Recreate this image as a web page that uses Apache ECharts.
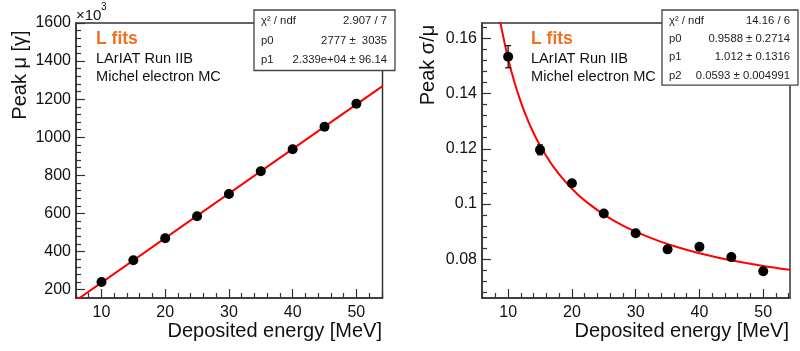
<!DOCTYPE html>
<html><head><meta charset="utf-8">
<script src="https://cdn.jsdelivr.net/npm/echarts@6/dist/echarts.min.js"></script>
<style>html,body{margin:0;padding:0;background:#fff}#c{width:800px;height:351px}</style>
</head><body><div id="c"></div>
<script>
// ---- data ----
const energy = [10, 15, 20, 25, 30, 35, 40, 45, 50];
const peakMu = [240, 354, 470, 585, 702, 822, 937, 1055, 1176];          // x10^3 photons
const linFitX = [6, 54.1];
const linFitY = [143.1, 1268.2];
const peakRes = [0.1533, 0.1196, 0.1075, 0.0966, 0.0894, 0.0836, 0.0845, 0.0808, 0.0757];
const peakResErr = [0.0040, 0.0018, 0.0009, 0.0008, 0.0007, 0.0007, 0.0007, 0.0008, 0.0012];
const resFitX = [8.5, 9, 10, 11, 12, 13, 14, 15, 17, 19, 21, 23, 25, 28, 31, 34, 37, 40, 43, 46, 50, 54.2];
const resFitY = [0.1692, 0.1631, 0.1526, 0.1440, 0.1369, 0.1308, 0.1256, 0.1212, 0.1138, 0.1080, 0.1033, 0.0995, 0.0962, 0.0922, 0.0890, 0.0863, 0.0841, 0.0822, 0.0806, 0.0792, 0.0776, 0.0762];
const xMajor = [10, 20, 30, 40, 50];
const xMinor = [6, 8, 12, 14, 16, 18, 22, 24, 26, 28, 32, 34, 36, 38, 42, 44, 46, 48, 52, 54];
const muMajor = [200, 400, 600, 800, 1000, 1200, 1400, 1600];
const muMinor = [160, 240, 280, 320, 360, 440, 480, 520, 560, 640, 680, 720, 760, 840, 880, 920, 960, 1040, 1080, 1120, 1160, 1240, 1280, 1320, 1360, 1440, 1480, 1520, 1560];
const resMajor = [0.08, 0.10, 0.12, 0.14, 0.16];
const resMinor = [0.068, 0.072, 0.076, 0.084, 0.088, 0.092, 0.096, 0.104, 0.108, 0.112, 0.116, 0.124, 0.128, 0.132, 0.136, 0.144, 0.148, 0.152, 0.156, 0.164];
const resLabels = {0.08: '0.08', 0.1: '0.1', 0.12: '0.12', 0.14: '0.14', 0.16: '0.16'};
const statsLeft = [['χ² / ndf', '2.907 / 7'], ['p0', '2777 ±  3035'], ['p1', '2.339e+04 ± 96.14']];
const statsRight = [['χ² / ndf', '14.16 / 6'], ['p0', '0.9588 ± 0.2714'], ['p1', '1.012 ± 0.1316'], ['p2', '0.0593 ± 0.004991']];

// ---- styles ----
const FONT = '"Liberation Sans", Arial, Helvetica, sans-serif';
const AX = '#333';
const chart = echarts.init(document.getElementById('c'), null, {renderer: 'canvas'});

function majorX(grid, min, max) {
  return {type: 'value', gridIndex: grid, min, max, position: 'bottom',
    axisLine: {show: true, onZero: false, lineStyle: {color: AX, width: 1.5}},
    axisTick: {show: true, inside: true, length: 9, customValues: xMajor, lineStyle: {color: AX, width: 1.2}},
    axisLabel: {show: true, customValues: xMajor, margin: 7, color: '#111', fontSize: 16, fontFamily: FONT},
    splitLine: {show: false}};
}
function minorX(grid, min, max) {
  return {type: 'value', gridIndex: grid, min, max, position: 'bottom',
    axisLine: {show: false, onZero: false},
    axisTick: {show: true, inside: true, length: 5, customValues: xMinor, lineStyle: {color: AX, width: 1.2}},
    axisLabel: {show: false}, splitLine: {show: false}};
}
function majorY(grid, min, max, vals, fmt) {
  return {type: 'value', gridIndex: grid, min, max, position: 'left',
    axisLine: {show: true, onZero: false, lineStyle: {color: AX, width: 1.5}},
    axisTick: {show: true, inside: true, length: 9, customValues: vals, lineStyle: {color: AX, width: 1.2}},
    axisLabel: {show: true, customValues: vals, margin: 5, color: '#111', fontSize: 16, fontFamily: FONT, formatter: fmt},
    splitLine: {show: false}};
}
function minorY(grid, min, max, vals) {
  return {type: 'value', gridIndex: grid, min, max, position: 'left',
    axisLine: {show: false, onZero: false},
    axisTick: {show: true, inside: true, length: 5, customValues: vals, lineStyle: {color: AX, width: 1.2}},
    axisLabel: {show: false}, splitLine: {show: false}};
}

function errBars(xi, yi, xs, ys, es) {
  return {type: 'custom', xAxisIndex: xi, yAxisIndex: yi, z: 3,
    data: xs.map((x, i) => [x, ys[i] - es[i], ys[i] + es[i]]),
    renderItem: function (params, api) {
      const x = api.value(0);
      const lo = api.coord([x, api.value(1)]);
      const hi = api.coord([x, api.value(2)]);
      const st = {stroke: '#000', lineWidth: 1.2};
      return {type: 'group', children: [
        {type: 'line', shape: {x1: lo[0], y1: lo[1], x2: hi[0], y2: hi[1]}, style: st},
        {type: 'line', shape: {x1: lo[0] - 3, y1: lo[1], x2: lo[0] + 3, y2: lo[1]}, style: st},
        {type: 'line', shape: {x1: hi[0] - 3, y1: hi[1], x2: hi[0] + 3, y2: hi[1]}, style: st}
      ]};
    }};
}

function statsBox(x, y, w, rowH, rows) {
  const h = rowH * rows.length + 2;
  const els = [{type: 'rect', shape: {x: x, y: y, width: w, height: h}, z: 10,
    style: {fill: '#fff', stroke: '#444', lineWidth: 1.3}}];
  rows.forEach((r, i) => {
    const cy = y + rowH * (i + 0.5) + 1.5;
    els.push({type: 'text', x: x + 7, y: cy, z: 11,
      style: {text: r[0], fill: '#222', font: '11.3px ' + FONT, align: 'left', verticalAlign: 'middle'}});
    els.push({type: 'text', x: x + w - 8, y: cy, z: 11,
      style: {text: r[1], fill: '#222', font: '11.3px ' + FONT, align: 'right', verticalAlign: 'middle'}});
  });
  return els;
}

function labels(x0) {
  return [
    {type: 'text', x: x0, y: 39, style: {text: 'L fits', fill: '#f07020', font: 'bold 17.5px ' + FONT, verticalAlign: 'middle'}},
    {type: 'text', x: x0, y: 58.5, style: {text: 'LArIAT Run IIB', fill: '#111', font: '14.6px ' + FONT, verticalAlign: 'middle'}},
    {type: 'text', x: x0, y: 76.5, style: {text: 'Michel electron MC', fill: '#111', font: '14.6px ' + FONT, verticalAlign: 'middle'}}
  ];
}

const graphics = [].concat(
  labels(96), labels(531),
  statsBox(254, 10, 141, 19.5, statsLeft),
  statsBox(662, 10, 136, 18.3, statsRight),
  [
    {type: 'text', x: 382, y: 331, style: {text: 'Deposited energy [MeV]', fill: '#111', font: '20px ' + FONT, align: 'right', verticalAlign: 'middle'}},
    {type: 'text', x: 789, y: 331, style: {text: 'Deposited energy [MeV]', fill: '#111', font: '20px ' + FONT, align: 'right', verticalAlign: 'middle'}},
    {type: 'text', x: 20, y: 75, rotation: Math.PI / 2, style: {text: 'Peak μ [γ]', fill: '#111', font: '20px ' + FONT, align: 'center', verticalAlign: 'middle'}},
    {type: 'text', x: 428, y: 65, rotation: Math.PI / 2, style: {text: 'Peak σ/μ', fill: '#111', font: '20px ' + FONT, align: 'center', verticalAlign: 'middle'}},
    {type: 'text', x: 76, y: 16, style: {text: '×10', fill: '#111', font: '15px ' + FONT, align: 'left', verticalAlign: 'middle'}},
    {type: 'text', x: 101, y: 7, style: {text: '3', fill: '#111', font: '10px ' + FONT, align: 'left', verticalAlign: 'middle'}}
  ]
);

const option = {
  animation: false,
  backgroundColor: '#fff',
  grid: [
    {left: 76, top: 23, width: 306.5, height: 275, show: true, borderColor: AX, borderWidth: 1.5, backgroundColor: 'transparent'},
    {left: 482, top: 23, width: 308, height: 275, show: true, borderColor: AX, borderWidth: 1.5, backgroundColor: 'transparent'}
  ],
  xAxis: [
    majorX(0, 6, 54.1), minorX(0, 6, 54.1),
    majorX(1, 5.9, 54.2), minorX(1, 5.9, 54.2)
  ],
  yAxis: [
    majorY(0, 156, 1600, muMajor, v => String(Math.round(v))), minorY(0, 156, 1600, muMinor),
    majorY(1, 0.066, 0.1655, resMajor, v => resLabels[Math.round(v * 100) / 100] || String(v)), minorY(1, 0.066, 0.1655, resMinor)
  ],
  graphic: graphics,
  series: [
    {type: 'line', xAxisIndex: 0, yAxisIndex: 0, data: linFitX.map((x, i) => [x, linFitY[i]]),
      showSymbol: false, clip: true, lineStyle: {color: '#ff0000', width: 2}, z: 2},
    {type: 'scatter', xAxisIndex: 0, yAxisIndex: 0, data: energy.map((e, i) => [e, peakMu[i]]),
      symbolSize: 10, itemStyle: {color: '#000', opacity: 1}, z: 4},
    {type: 'line', xAxisIndex: 2, yAxisIndex: 2, data: resFitX.map((x, i) => [x, resFitY[i]]),
      smooth: 0.3, showSymbol: false, clip: true, lineStyle: {color: '#ff0000', width: 2}, z: 2},
    errBars(2, 2, energy, peakRes, peakResErr),
    {type: 'scatter', xAxisIndex: 2, yAxisIndex: 2, data: energy.map((e, i) => [e, peakRes[i]]),
      symbolSize: 10, itemStyle: {color: '#000', opacity: 1}, z: 4}
  ]
};
chart.setOption(option);
</script>
</body></html>
